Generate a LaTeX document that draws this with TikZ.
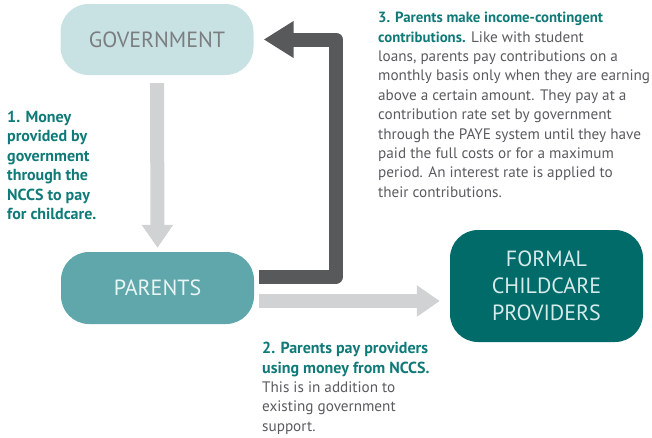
\documentclass[tikz,border=0pt]{standalone}
\usepackage{fontspec}
\setmainfont{PT Sans}
\usetikzlibrary{arrows.meta}

\definecolor{govfill}{HTML}{C8E1E3}
\definecolor{govtext}{HTML}{7B7E81}
\definecolor{parfill}{HTML}{5FA7AA}
\definecolor{partext}{HTML}{EAF5F5}
\definecolor{provfill}{HTML}{006B69}
\definecolor{provtext}{HTML}{D5EBEA}
\definecolor{arrowlight}{HTML}{D1D2D4}
\definecolor{arrowdark}{HTML}{58595B}
\definecolor{noteteal}{HTML}{0F7A77}
\definecolor{notegray}{HTML}{5A5B5E}

\newcommand{\lead}[1]{{\fontsize{16}{19.4}\selectfont\bfseries\color{noteteal}#1}}

\begin{document}
\begin{tikzpicture}[
  x=1pt, y=1pt,
  box/.style={rounded corners=28pt, minimum width=193pt, inner sep=0pt, align=center,
    font=\fontsize{22}{27}\selectfont},
  note/.style={anchor=north west, inner sep=0pt, align=left, text=notegray,
    font=\fontsize{15.2}{19.4}\selectfont},
  lightarrow/.style={draw=arrowlight, line width=14pt, -{Triangle[length=23pt,width=30pt]}},
  darkarrow/.style={draw=arrowdark, line width=14pt, line join=round, -{Triangle[length=30pt,width=35pt]}}
]
\useasboundingbox (0,0) rectangle (652,-437);

\node[box, fill=govfill, text=govtext, minimum height=71pt] (gov) at (157,-39.5) {GOVERNMENT};
\node[box, fill=parfill, text=partext, minimum height=72pt] (par) at (157.5,-288) {PARENTS};
\node[box, fill=provfill, text=provtext, minimum height=112pt] (prov) at (546.5,-286)
  {FORMAL\\CHILDCARE\\PROVIDERS};

% money flows
\draw[lightarrow, shorten <=8pt, shorten >=4pt] (gov.south) -- (par.north);
\draw[lightarrow, shorten <=5pt, shorten >=10pt]
  ([yshift=-13pt]par.east) -- ([yshift=-13pt]par.east -| prov.west);
\draw[darkarrow, shorten <=5pt, shorten >=10pt]
  ([yshift=11.5pt]par.east) -- ++(82,0) |- (gov.east);

\node[note, text=noteteal, font=\fontsize{16}{19.4}\selectfont\bfseries] (step1) at (7,-111)
  {1. Money\\provided by\\government\\through the\\NCCS to pay\\for childcare.};
\node[note] (step2) at (262,-342)
  {\lead{2. Parents pay providers}\\
   \lead{using money from NCCS.}\\
   This is in addition to\\existing government\\support.};
\node[note] (step3) at (378,-12)
  {{\fontsize{14.8}{19.4}\selectfont\bfseries\color{noteteal}3. Parents make income-contingent}\\
   {\fontsize{14.8}{19.4}\selectfont\bfseries\color{noteteal}contributions.} Like with student\\
   loans, parents pay contributions on a\\
   monthly basis only when they are earning\\
   above a certain amount. They pay at a\\
   contribution rate set by government\\
   through the PAYE system until they have\\
   paid the full costs or for a maximum\\
   period. An interest rate is applied to\\
   their contributions.};
\end{tikzpicture}
\end{document}
